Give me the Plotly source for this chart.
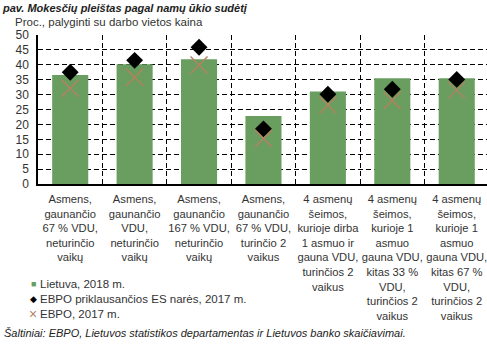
import plotly.graph_objects as go

# Household types (tick labels, one <br> per wrapped line)
categories = [
    "Asmens,<br>gaunančio<br>67 % VDU,<br>neturinčio<br>vaikų",
    "Asmens,<br>gaunančio<br>VDU,<br>neturinčio<br>vaikų",
    "Asmens,<br>gaunančio<br>167 % VDU,<br>neturinčio<br>vaikų",
    "Asmens,<br>gaunančio<br>67 % VDU,<br>turinčio 2<br>vaikus",
    "4 asmenų<br>šeimos,<br>kurioje dirba<br>1 asmuo ir<br>gauna VDU,<br>turinčios 2<br>vaikus",
    "4 asmenų<br>šeimos,<br>kurioje 1<br>asmuo<br>gauna VDU,<br>kitas 33 %<br>VDU,<br>turinčios 2<br>vaikus",
    "4 asmenų<br>šeimos,<br>kurioje 1<br>asmuo<br>gauna VDU,<br>kitas 67 %<br>VDU,<br>turinčios 2<br>vaikus",
]

# Tax wedge, % of labour cost
lietuva_2018 = [36.6, 40.2, 41.9, 22.8, 31.0, 35.5, 35.5]
ebpo_es_2017 = [37.5, 41.5, 45.9, 18.5, 30.1, 31.8, 35.1]
ebpo_2017 = [32.1, 35.8, 39.9, 15.3, 26.5, 28.0, 31.5]

y_ticks = list(range(0, 51, 5))

series_names = [
    "Lietuva, 2018 m.",
    "EBPO priklausančios ES narės, 2017 m.",
    "EBPO, 2017 m.",
]

GREEN = "#6a9e60"
CROSS = "#b5815f"
TEXT = "#333333"
FONT = "Liberation Sans, Arial, sans-serif"

W, H = 487, 345
PLOT_TOP, PLOT_BOTTOM, PLOT_LEFT = 35, 184, 38


def py(pix):
    """Convert a pixel row of the page into paper coordinates."""
    return (PLOT_BOTTOM - pix) / (PLOT_BOTTOM - PLOT_TOP)


def px(pix):
    return (pix - PLOT_LEFT) / (W - PLOT_LEFT)


x_idx = list(range(len(categories)))

fig = go.Figure()
fig.add_trace(go.Bar(
    x=x_idx, y=lietuva_2018, name=series_names[0],
    marker=dict(color=GREEN, line=dict(width=0)), width=0.56,
))
fig.add_trace(go.Scatter(
    x=x_idx, y=ebpo_es_2017, name=series_names[1], mode="markers",
    marker=dict(symbol="diamond", size=13, color="black"),
))
fig.add_trace(go.Scatter(
    x=x_idx, y=ebpo_2017, name=series_names[2], mode="markers",
    marker=dict(symbol="x-thin", size=17, color=CROSS,
                line=dict(color=CROSS, width=1.4)),
))

fig.update_layout(
    width=W, height=H,
    margin=dict(l=PLOT_LEFT, r=0, t=PLOT_TOP, b=H - PLOT_BOTTOM, pad=0),
    paper_bgcolor="white", plot_bgcolor="white",
    showlegend=False,
    font=dict(family=FONT, size=12, color=TEXT),
)

fig.update_yaxes(
    range=[0, 50], tickvals=y_ticks, ticktext=[str(v) for v in y_ticks],
    showgrid=True, gridcolor="black", gridwidth=1, griddash="5px,3px",
    showline=True, linecolor="black", linewidth=1.5,
    zeroline=False, ticks="", ticklabelstandoff=5,
    tickfont=dict(size=12, color=TEXT),
)

# Vertical dashed separators between household types
fig.update_xaxes(
    range=[-0.5, 6.47], tickvals=x_idx, ticktext=categories,
    tickangle=0, automargin=False, ticklabeloverflow="allow",
    showgrid=False, showline=True, linecolor="black", linewidth=1.5,
    zeroline=False, ticks="", ticklabelstandoff=4,
    tickfont=dict(size=11.2, color=TEXT),
    minor=dict(tickvals=[i + 0.5 for i in x_idx], showgrid=True,
               gridcolor="black", gridwidth=1, griddash="5px,3px", ticks=""),
)

annotations = [
    dict(text="<b><i>pav. Mokesčių pleištas pagal namų ūkio sudėtį</i></b>",
         x=px(0), y=py(0), xanchor="left", yanchor="top",
         font=dict(size=11, color="#222222")),
    dict(text="Proc., palyginti su darbo vietos kaina",
         x=px(13), y=py(22), xanchor="left", yanchor="middle",
         font=dict(size=11.5, color=TEXT)),
    dict(text="<i>Šaltiniai: EBPO, Lietuvos statistikos departamentas ir Lietuvos banko skaičiavimai.</i>",
         x=px(2), y=py(333), xanchor="left", yanchor="middle",
         font=dict(size=11, color="#222222")),
]

# Legend drawn as a compact list under the y axis
legend_rows = [284, 299, 314]
legend_marks = [("■", GREEN, 9), ("◆", "black", 9), ("×", CROSS, 14)]
for row, name, (sym, col, sz) in zip(legend_rows, series_names, legend_marks):
    annotations.append(dict(text=sym, x=px(33), y=py(row), xanchor="center",
                            yanchor="middle", font=dict(size=sz, color=col)))
    annotations.append(dict(text=name, x=px(38), y=py(row), xanchor="left",
                            yanchor="middle", font=dict(size=11.5, color=TEXT)))

for a in annotations:
    a.update(xref="paper", yref="paper", showarrow=False)
fig.update_layout(annotations=annotations)

fig.write_html("out.html")
